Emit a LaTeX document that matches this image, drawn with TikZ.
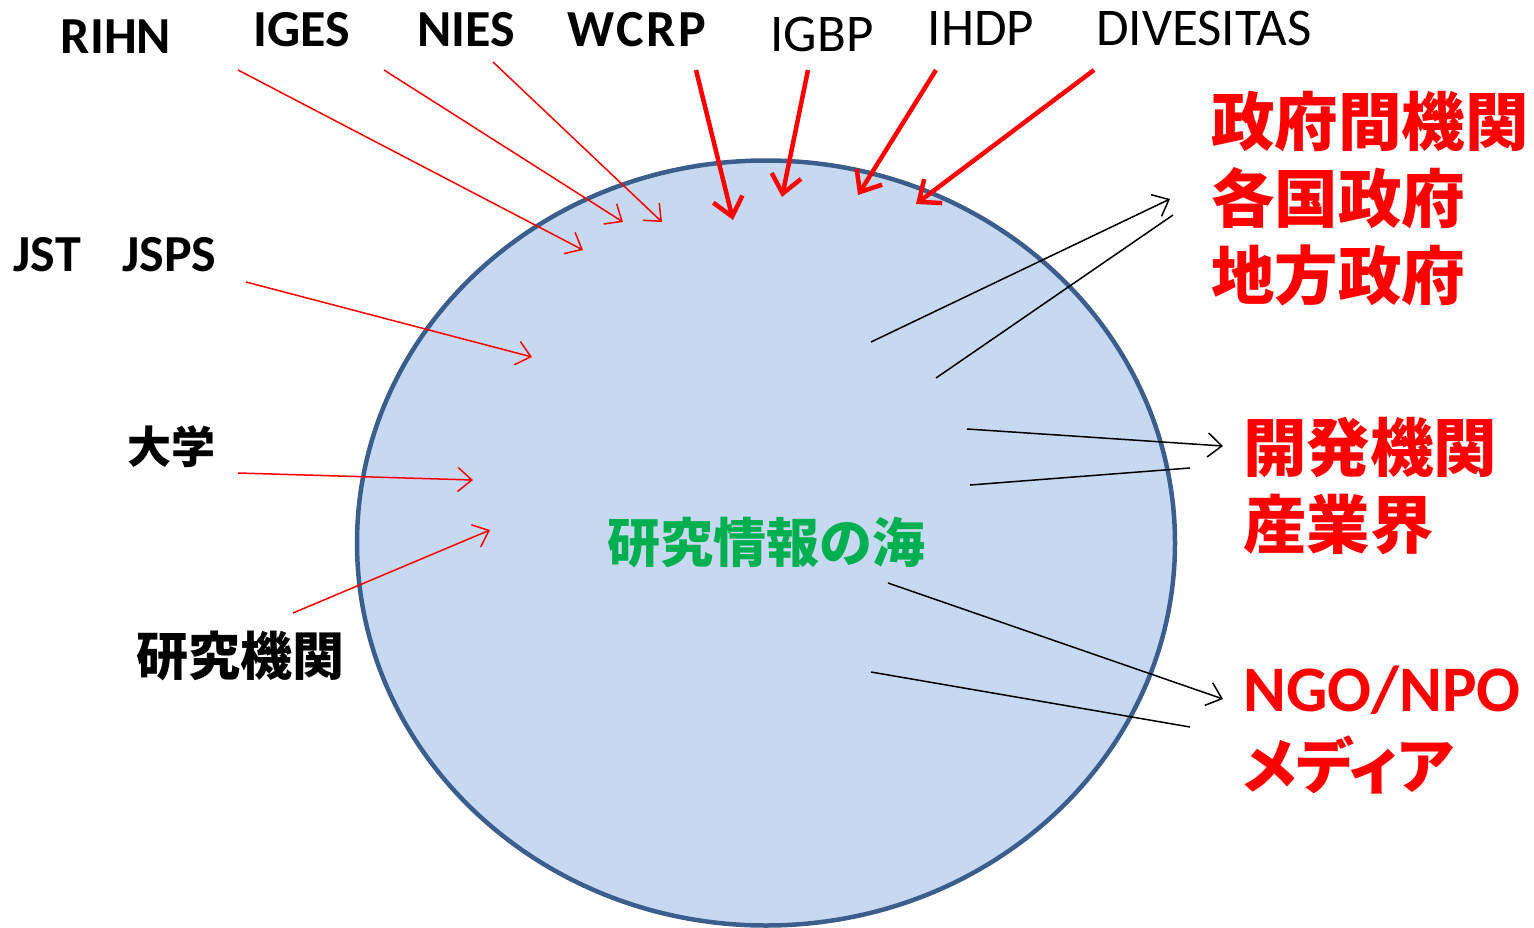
\documentclass[tikz,border=0pt]{standalone}
\usepackage{fontspec}
\setmainfont{Carlito}
\newfontfamily\jp{Noto Sans CJK JP}
\newfontfamily\jpprop{Noto Sans CJK JP}[RawFeature=+palt]
\usetikzlibrary{arrows.meta,shapes.geometric}
\definecolor{seafill}{HTML}{C6D9F1}
\definecolor{seaedge}{HTML}{3B5E8C}
\definecolor{seagreen}{HTML}{00B050}
\definecolor{pptred}{HTML}{FF0000}
\begin{document}
\begin{tikzpicture}[x=1pt,y=-1pt,
  toplab/.style={inner sep=0pt, font=\fontsize{53}{60}\selectfont},
  boldlab/.style={inner sep=0pt, font=\fontsize{52}{60}\selectfont\bfseries},
  jplab/.style={inner sep=0pt, font=\jp\bfseries\fontsize{#1}{#1}\selectfont},
  redblock/.style={inner sep=0pt, anchor=west, align=left, text=pptred, font=\jp\bfseries\fontsize{63.5}{77}\selectfont},
  thinin/.style={draw=pptred, line width=1.5pt, -{Straight Barb[length=14pt,width=24pt,line width=1.5pt]}},
  thickin/.style={draw=pptred, line width=4.5pt, -{Straight Barb[length=18pt,width=30pt,line width=4.5pt]}},
  outarrow/.style={draw=black, line width=1.5pt, -{Straight Barb[length=14pt,width=24pt,line width=1.5pt]}},
  outline/.style={draw=black, line width=1.5pt}]
\useasboundingbox (0,0) rectangle (1534,927);

% the sea
\node[ellipse, draw=seaedge, line width=4.5pt, fill=seafill, minimum width=818pt, minimum height=765pt, inner sep=0pt,
      text=seagreen, font=\jp\bfseries\fontsize{53}{53}\selectfont] (sea) at (766,543) {研究情報の海};

% top labels
\node[boldlab] (rihn) at (116,37) {RIHN};
\node[boldlab] (iges) at (302,30) {IGES};
\node[boldlab] (nies) at (466,30) {NIES};
\node[boldlab] (wcrp) at (637,30) {\addfontfeature{LetterSpace=5}WCRP};
\node[toplab] (igbp) at (822,34) {IGBP};
\node[toplab] (ihdp) at (981,28) {IHDP};
\node[toplab] (divesitas) at (1204,28) {DIVESITAS};

% left labels
\node[boldlab] (jst) at (115,255) {JST\hspace{0.8em}JSPS};
\node[jplab=44] (univ) at (171,447) {大学};
\node[jplab=52] (inst) at (240,656) {研究機関};

% right labels
\node[redblock] (gov) at (1211,199) {政府間機関\\各国政府\\地方政府};
\node[redblock] (dev) at (1243,486) {開発機関\\産業界};
\node[redblock] (ngo) at (1243,730) {{\fontspec{Carlito}\bfseries\fontsize{65}{77}\selectfont NGO/NPO}\\{\jpprop\bfseries\fontsize{60}{77}\selectfont メディア}};

% incoming arrow end points
\coordinate (rihnA) at (238,70);   \coordinate (rihnB) at (583,250);
\coordinate (igesA) at (384,70);   \coordinate (igesB) at (623,222);
\coordinate (niesA) at (493,62);   \coordinate (niesB) at (662,222);
\coordinate (wcrpA) at (696,70);   \coordinate (wcrpB) at (733,220);
\coordinate (igbpA) at (808,70);   \coordinate (igbpB) at (782,197);
\coordinate (ihdpA) at (936,70);   \coordinate (ihdpB) at (858,195);
\coordinate (divA) at (1094,70);   \coordinate (divB) at (916,204);
\coordinate (jstA) at (246,282);   \coordinate (jstB) at (532,357);
\coordinate (univA) at (238,473);  \coordinate (univB) at (473,480);
\coordinate (instA) at (293,613);  \coordinate (instB) at (490,530);

\draw[thinin] (rihnA) -- (rihnB);
\draw[thinin] (igesA) -- (igesB);
\draw[thinin] (niesA) -- (niesB);
\draw[thickin] (wcrpA) -- (wcrpB);
\draw[thickin] (igbpA) -- (igbpB);
\draw[thickin] (ihdpA) -- (ihdpB);
\draw[thickin] (divA) -- (divB);
\draw[thinin] (jstA) -- (jstB);
\draw[thinin] (univA) -- (univB);
\draw[thinin] (instA) -- (instB);

% outgoing lines
\coordinate (g1A) at (871,342);  \coordinate (g1B) at (1170,199);
\coordinate (g2A) at (936,378);  \coordinate (g2B) at (1173,215);
\coordinate (d1A) at (967,429);  \coordinate (d1B) at (1223,446);
\coordinate (d2A) at (970,485);  \coordinate (d2B) at (1190,468);
\coordinate (n1A) at (888,583);  \coordinate (n1B) at (1223,699);
\coordinate (n2A) at (871,672);  \coordinate (n2B) at (1190,727);

\draw[outarrow] (g1A) -- (g1B);
\draw[outline] (g2A) -- (g2B);
\draw[outarrow] (d1A) -- (d1B);
\draw[outline] (d2A) -- (d2B);
\draw[outarrow] (n1A) -- (n1B);
\draw[outline] (n2A) -- (n2B);
\end{tikzpicture}
\end{document}
